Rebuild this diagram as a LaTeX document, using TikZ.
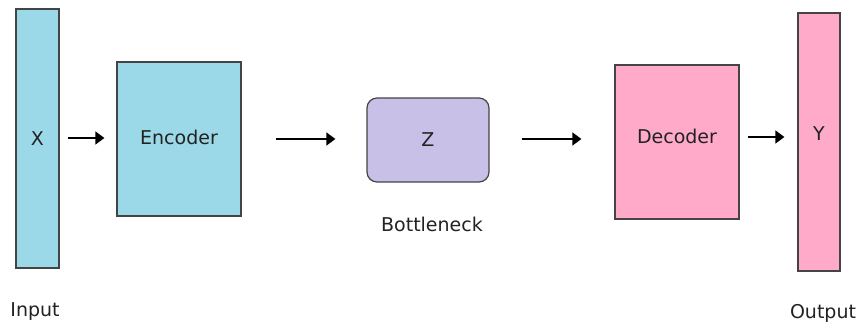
\documentclass[tikz,border=0pt]{standalone}
\usepackage{fontspec}
\setmainfont{DejaVu Sans}
\usetikzlibrary{arrows.meta}
\definecolor{bluefill}{HTML}{9BD9E8}
\definecolor{pinkfill}{HTML}{FFAAC8}
\definecolor{zfill}{HTML}{C8C0E6}
\definecolor{edge}{HTML}{444444}
\definecolor{txt}{HTML}{222222}
\begin{document}
\begin{tikzpicture}[x=1pt,y=-1pt,
  every node/.style={font=\fontsize{19}{22}\selectfont, text=txt},
  boxstyle/.style={draw=edge, line width=1.2pt, inner sep=0pt},
  arr/.style={line width=1.3pt, -{Triangle[length=9pt,width=13pt]}}]
\useasboundingbox (0,0) rectangle (861,324);
\node[boxstyle, fill=bluefill, minimum width=43, minimum height=259] (X) at (37.5,138.5) {X};
\node[boxstyle, fill=bluefill, minimum width=124, minimum height=154] (Enc) at (179,139) {\raisebox{4pt}{Encoder}};
\node[boxstyle, fill=zfill, rounded corners=10pt, minimum width=122, minimum height=84] (Z) at (428,140) {Z};
\node[boxstyle, fill=pinkfill, minimum width=124, minimum height=154] (Dec) at (677,142) {\raisebox{12pt}{Decoder}};
\node[boxstyle, fill=pinkfill, minimum width=42, minimum height=258] (Y) at (819,142) {\raisebox{16pt}{Y}};
\node (in) at (35,312) {Input};
\node (out) at (823,313) {Output};
\node (bn) at (432,224) {Bottleneck};
\coordinate (a1) at ([shift={(8,-0.5)}]X.east);
\coordinate (a2) at ([xshift=34]Enc.east);
\coordinate (a3) at ([shift={(32,-1)}]Z.east);
\coordinate (a4) at ([shift={(8,-5)}]Dec.east);
\draw[arr, shorten >=12pt] (a1) -- (a1 -| Enc.west);
\draw[arr, shorten >=31pt] (a2) -- (a2 -| Z.west);
\draw[arr, shorten >=33pt] (a3) -- (a3 -| Dec.west);
\draw[arr, shorten >=13pt] (a4) -- (a4 -| Y.west);
\end{tikzpicture}
\end{document}
